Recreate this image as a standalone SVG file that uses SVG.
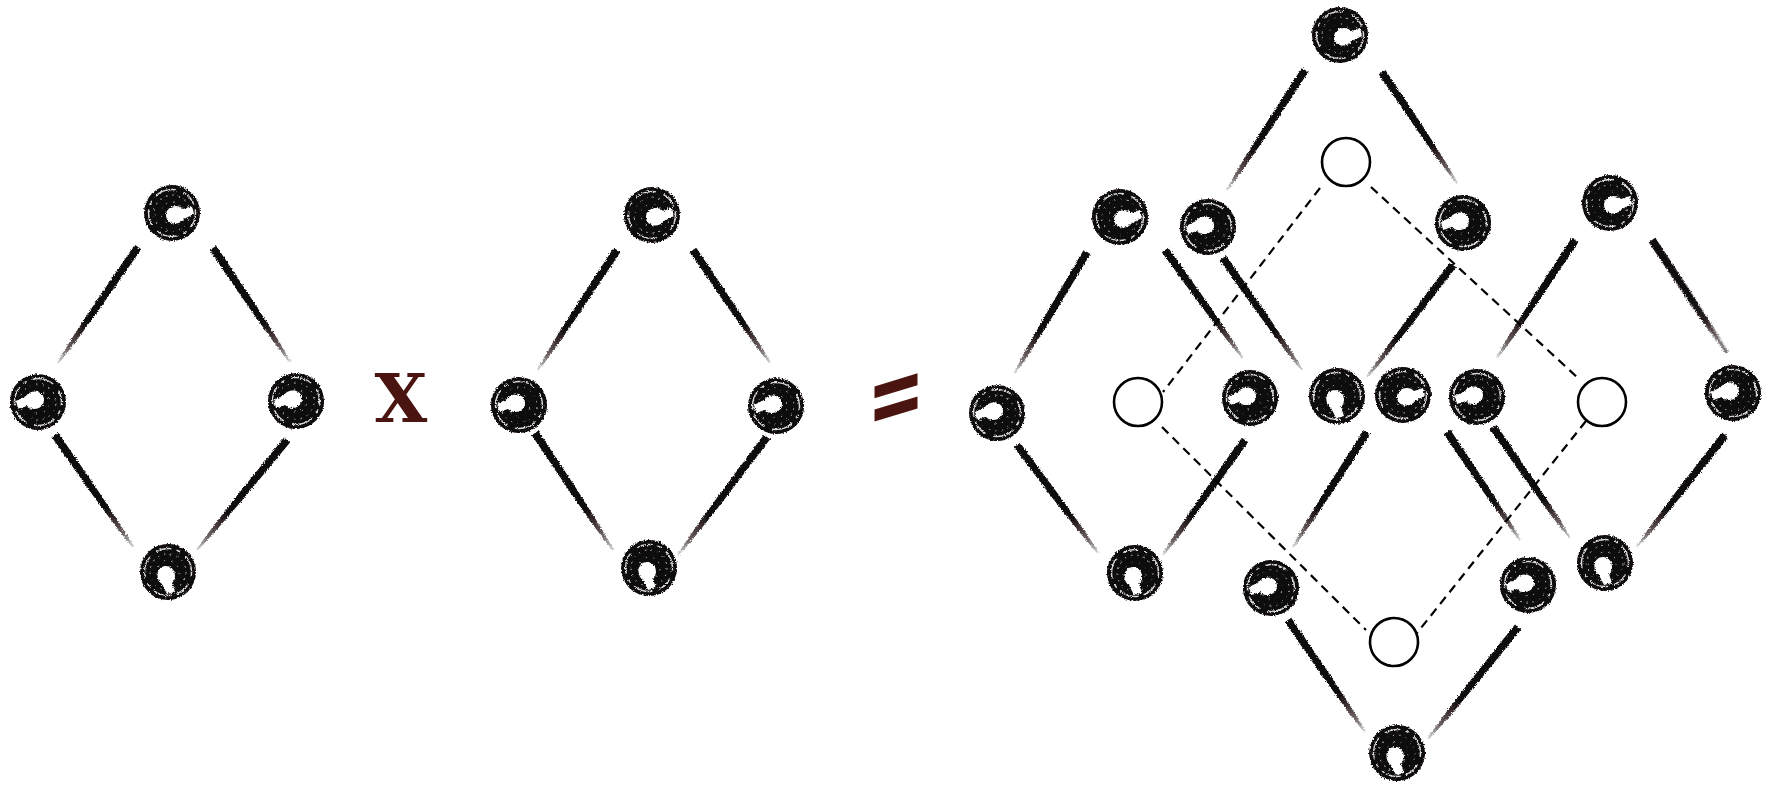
<svg xmlns="http://www.w3.org/2000/svg" xmlns:xlink="http://www.w3.org/1999/xlink" width="1768" height="786" viewBox="0 0 1768 786">
<style>
.hollow{fill:#fff;stroke:#000;stroke-width:2.6}
.dash{stroke:#000;stroke-width:2.2;stroke-dasharray:9 6;fill:none}
.op{fill:#4a1410;font-family:"DejaVu Serif","Liberation Serif",serif;font-weight:bold}
</style>
<defs>
<filter id="rough" x="-5%" y="-5%" width="110%" height="110%">
<feTurbulence type="fractalNoise" baseFrequency="0.7" numOctaves="2" seed="4" result="n"/>
<feDisplacementMap in="SourceGraphic" in2="n" scale="3.5" xChannelSelector="R" yChannelSelector="G"/>
</filter>
<linearGradient id="fade" x1="0" y1="0" x2="1" y2="0">
<stop offset="0" stop-color="#0e0707" stop-opacity="1"/>
<stop offset="0.65" stop-color="#0e0707" stop-opacity="1"/>
<stop offset="0.88" stop-color="#0e0707" stop-opacity="0.6"/>
<stop offset="1" stop-color="#0e0707" stop-opacity="0.15"/>
</linearGradient>
<path id="ln" d="M0,-3.9 L0.5,-3.5 L0.8,-2.5 L1,-1 L1,1 L0.8,2.5 L0.5,3.5 L0,3.9 Z" fill="url(#fade)"/>
<g id="nd">
<circle r="28" fill="#0e0707"/>
<circle r="23.5" fill="none" stroke="#fff" stroke-width="1.5" stroke-dasharray="16 5 4 6 22 8" opacity="0.85"/>
<circle r="18" fill="none" stroke="#fff" stroke-width="1" stroke-dasharray="1.5 5" opacity="0.8"/>
<circle r="11" fill="none" stroke="#fff" stroke-width="1" stroke-dasharray="1.5 6" opacity="0.7"/>
<path d="M-6,2 C-6,-7 6,-10 11,-4 L20,-7 L22,1 L12,6 C8,13 -6,12 -6,2 Z" fill="#fff"/>
</g>
</defs>
<rect width="1768" height="786" fill="#fff"/>

<g id="connectors">
<g filter="url(#rough)">
<use href="#ln" transform="translate(138 247) rotate(124.6) scale(140.9 1)"/>
<use href="#ln" transform="translate(213 248) rotate(55.96) scale(137.6 1)"/>
<use href="#ln" transform="translate(55 435) rotate(55.1) scale(136.5 1)"/>
<use href="#ln" transform="translate(287 440) rotate(129.3) scale(142.1 1)"/>

<use href="#ln" transform="translate(617 250) rotate(123.4) scale(143.7 1)"/>
<use href="#ln" transform="translate(693 250) rotate(55.7) scale(136.7 1)"/>
<use href="#ln" transform="translate(535 433) rotate(56.3) scale(140.6 1)"/>
<use href="#ln" transform="translate(767 437) rotate(127.0) scale(147.8 1)"/>

<use href="#ln" transform="translate(1305 70) rotate(123.0) scale(143.1 1)"/>
<use href="#ln" transform="translate(1382 72) rotate(55.95) scale(134 1)"/>
<use href="#ln" transform="translate(1223 258) rotate(54.8) scale(137.1 1)"/>
<use href="#ln" transform="translate(1453 265) rotate(127.5) scale(141.2 1)"/>

<use href="#ln" transform="translate(1087 252) rotate(120.8) scale(140.8 1)"/>
<use href="#ln" transform="translate(1165 250) rotate(54.2) scale(133.2 1)"/>
<use href="#ln" transform="translate(1017 445) rotate(53.1) scale(135 1)"/>
<use href="#ln" transform="translate(1245 440) rotate(125.5) scale(141.2 1)"/>

<use href="#ln" transform="translate(1575 240) rotate(123.5) scale(141.4 1)"/>
<use href="#ln" transform="translate(1652 240) rotate(56.4) scale(135.6 1)"/>
<use href="#ln" transform="translate(1493 427) rotate(55.25) scale(135.1 1)"/>
<use href="#ln" transform="translate(1725 435) rotate(128.2) scale(142.4 1)"/>

<use href="#ln" transform="translate(1367 432) rotate(122.8) scale(136.8 1)"/>
<use href="#ln" transform="translate(1447 432) rotate(55.95) scale(130.4 1)"/>
<use href="#ln" transform="translate(1288 620) rotate(55.5) scale(135.9 1)"/>
<use href="#ln" transform="translate(1518 627) rotate(128.8) scale(143.7 1)"/>
</g>
<line class="dash" x1="1320" y1="188" x2="1163" y2="392"/>
<line class="dash" x1="1371" y1="187" x2="1578" y2="378"/>
<line class="dash" x1="1162" y1="427" x2="1366" y2="630"/>
<line class="dash" x1="1586" y1="421" x2="1417" y2="633"/>
</g>

<g filter="url(#rough)">
<g id="a-top"><use href="#nd" transform="translate(172 213)"/></g>
<g id="a-left"><use href="#nd" transform="translate(38 402) rotate(180)"/></g>
<g id="a-right"><use href="#nd" transform="translate(296 401) rotate(180)"/></g>
<g id="a-bottom"><use href="#nd" transform="translate(168 572) rotate(90)"/></g>

<g id="b-top"><use href="#nd" transform="translate(652 215)"/></g>
<g id="b-left"><use href="#nd" transform="translate(519 405) rotate(180)"/></g>
<g id="b-right"><use href="#nd" transform="translate(776 406) rotate(180)"/></g>
<g id="b-bottom"><use href="#nd" transform="translate(649 568) rotate(90)"/></g>

<g id="t-top"><use href="#nd" transform="translate(1340 35)"/></g>
<g id="t-left"><use href="#nd" transform="translate(1208 227) rotate(180)"/></g>
<g id="t-right"><use href="#nd" transform="translate(1463 223) rotate(180)"/></g>
<g id="t-bottom"><use href="#nd" transform="translate(1337 396) rotate(90)"/></g>

<g id="l-top"><use href="#nd" transform="translate(1120 217)"/></g>
<g id="l-left"><use href="#nd" transform="translate(997 413) rotate(180)"/></g>
<g id="l-right"><use href="#nd" transform="translate(1250 398) rotate(180)"/></g>
<g id="l-bottom"><use href="#nd" transform="translate(1135 573) rotate(90)"/></g>

<g id="r-top"><use href="#nd" transform="translate(1610 203)"/></g>
<g id="r-left"><use href="#nd" transform="translate(1477 397) rotate(180)"/></g>
<g id="r-right"><use href="#nd" transform="translate(1733 393) rotate(180)"/></g>
<g id="r-bottom"><use href="#nd" transform="translate(1605 563) rotate(90)"/></g>

<g id="d-top"><use href="#nd" transform="translate(1403 395)"/></g>
<g id="d-left"><use href="#nd" transform="translate(1271 588) rotate(180)"/></g>
<g id="d-right"><use href="#nd" transform="translate(1528 585) rotate(180)"/></g>
<g id="d-bottom"><use href="#nd" transform="translate(1397 753) rotate(90)"/></g>
</g>

<g id="h-top"><circle class="hollow" cx="1346" cy="162" r="24"/></g>
<g id="h-left"><circle class="hollow" cx="1138" cy="402" r="24"/></g>
<g id="h-right"><circle class="hollow" cx="1602" cy="402" r="24"/></g>
<g id="h-bottom"><circle class="hollow" cx="1394" cy="642" r="24"/></g>

<g id="times"><text class="op" x="401" y="422" font-size="68" text-anchor="middle">X</text></g>
<g id="equals"><text class="op" transform="translate(896 0) skewY(-17) scale(0.66 1)" x="0" y="430" font-size="104" text-anchor="middle" style="font-family:'DejaVu Sans','Liberation Sans',sans-serif">=</text></g>
</svg>
